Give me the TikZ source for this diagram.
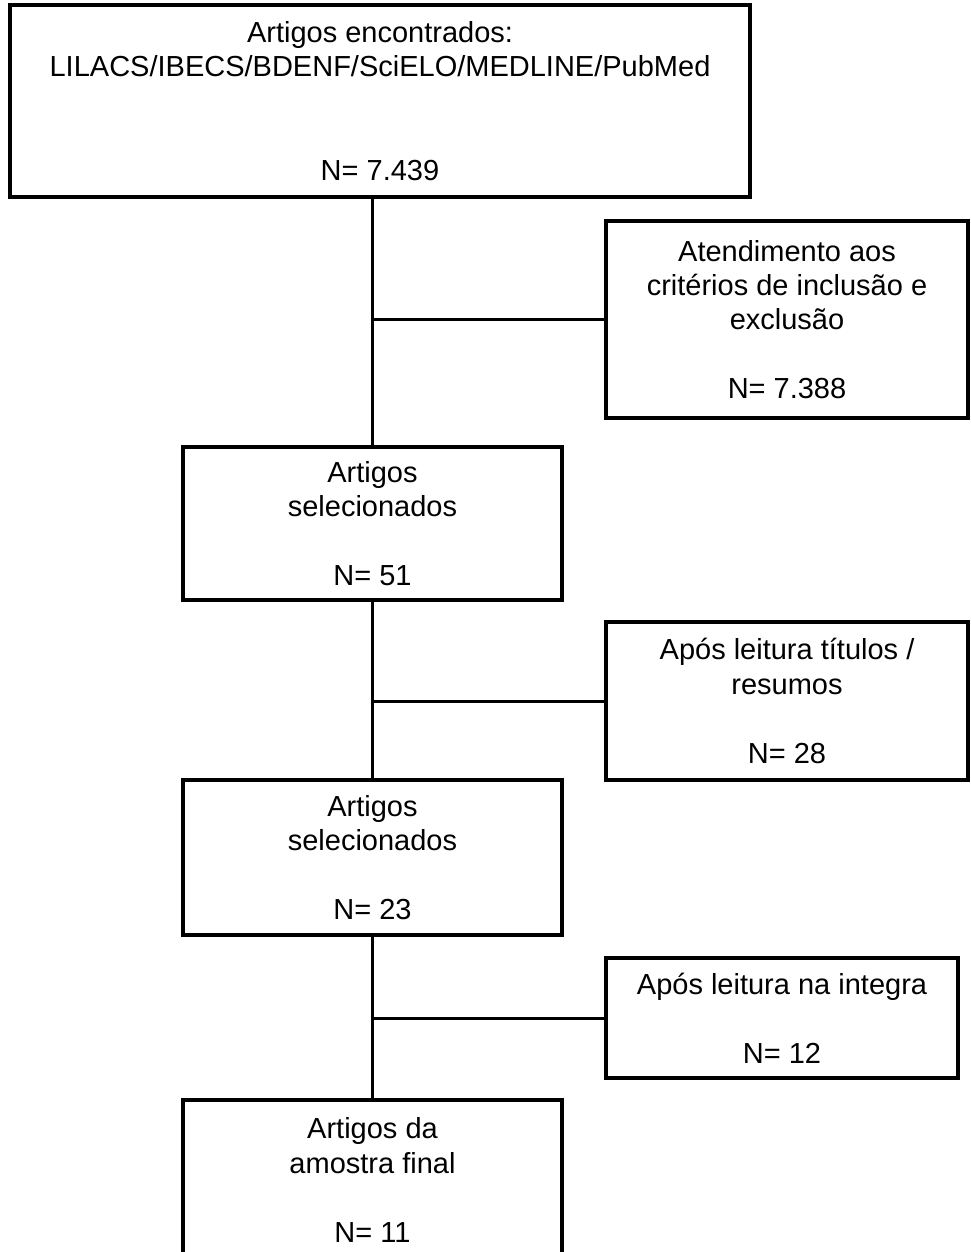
\documentclass[tikz,border=0pt]{standalone}
\usepackage{fontspec}
\setmainfont{Liberation Sans}
\usepackage{tikz}

\tikzset{
  boxnode/.style={draw, line width=1.7pt, align=center, inner sep=0pt,
    font=\fontsize{14.5}{17.2}\selectfont},
  link/.style={line width=1.5pt}
}

\begin{document}
\begin{tikzpicture}[x=0.5pt, y=-0.5pt]
    % Page frame
    \useasboundingbox (0,0) rectangle (970,1252);

    % Main column of boxes
    \node[boxnode, minimum width=370pt, minimum height=96pt] (enc) at (380,101)
      {Artigos encontrados:\\LILACS/IBECS/BDENF/SciELO/MEDLINE/PubMed\\[2\baselineskip]N= 7.439};
    \node[boxnode, minimum width=189.5pt, minimum height=76.5pt] (sel1) at (372.5,523.5)
      {Artigos\\selecionados\\[\baselineskip]N= 51};
    \node[boxnode, minimum width=189.5pt, minimum height=77.5pt] (sel2) at (372.5,857.5)
      {Artigos\\selecionados\\[\baselineskip]N= 23};
    \node[boxnode, minimum width=189.5pt, minimum height=80pt] (fin) at (372.5,1180)
      {Artigos da\\amostra final\\[\baselineskip]N= 11};

    % Excluded boxes on the right
    \node[boxnode, minimum width=181pt, minimum height=98.5pt] (crit) at (787,319.5)
      {Atendimento aos\\crit\'erios de inclus\~ao e\\exclus\~ao\\[\baselineskip]N= 7.388};
    \node[boxnode, minimum width=181pt, minimum height=79pt] (tit) at (787,701)
      {Ap\'os leitura t\'itulos /\\resumos\\[\baselineskip]N= 28};
    \node[boxnode, minimum width=176pt, minimum height=60pt] (integ) at (782,1018)
      {Ap\'os leitura na integra\\[\baselineskip]N= 12};

    % Vertical connectors
    \draw[link] (sel1.north |- enc.south) -- (sel1.north);
    \draw[link] (sel1.south) -- (sel2.north);
    \draw[link] (sel2.south) -- (fin.north);

    % Branches to the right
    \draw[link] (crit.west) -- (crit.west -| sel1.north);
    \draw[link] (tit.west) -- (tit.west -| sel1.north);
    \draw[link] (integ.west) -- (integ.west -| sel1.north);
\end{tikzpicture}
\end{document}
